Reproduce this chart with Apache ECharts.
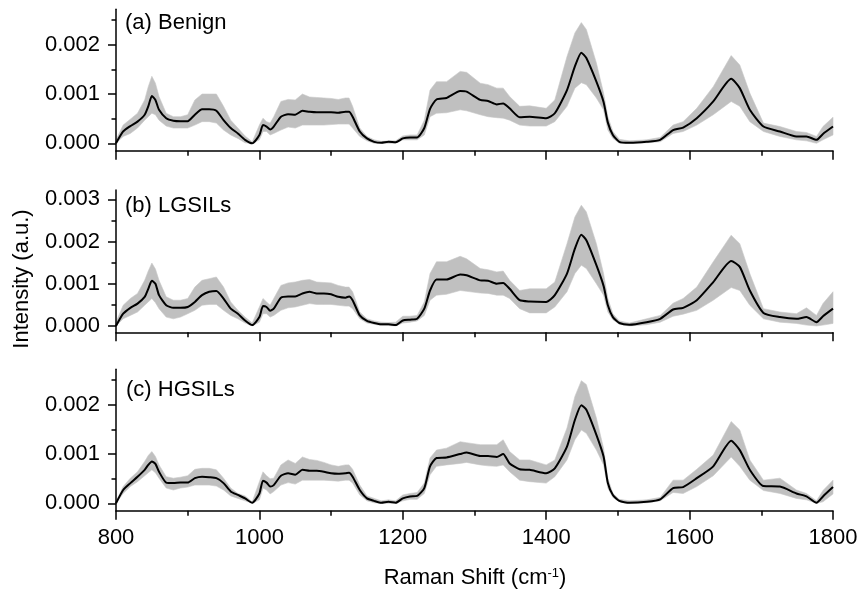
<!DOCTYPE html>
<html><head><meta charset="utf-8">
<script src="https://cdn.jsdelivr.net/npm/echarts@6/dist/echarts.min.js"></script>
<style>html,body{margin:0;padding:0;background:#fff}#c{width:861px;height:593px}</style>
</head><body><div id="c"></div>
<script>
// Raman shift (cm-1)
const ramanShift = [800,810,820,830,840,845,850,855,860,870,880,890,900,910,920,930,940,950,960,970,980,990,1000,1005,1010,1015,1020,1030,1040,1050,1060,1070,1080,1090,1100,1110,1120,1125,1130,1140,1150,1160,1170,1180,1190,1200,1210,1220,1230,1238,1247,1261,1280,1289,1308,1319,1331,1340,1349,1363,1377,1400,1412,1429,1440,1449,1456,1470,1480,1486,1493,1502,1516,1540,1559,1577,1591,1610,1633,1658,1670,1684,1703,1726,1749,1763,1777,1786,1800];

// Intensities in units of 0.001 a.u.
const benignMean = [0.00,0.24,0.35,0.44,0.58,0.75,0.96,0.88,0.68,0.51,0.46,0.45,0.45,0.58,0.69,0.69,0.66,0.47,0.31,0.20,0.07,0.00,0.17,0.37,0.34,0.28,0.34,0.54,0.59,0.58,0.66,0.64,0.63,0.63,0.63,0.62,0.64,0.64,0.54,0.24,0.10,0.03,0.01,0.03,0.02,0.10,0.12,0.12,0.31,0.70,0.89,0.92,1.06,1.05,0.88,0.86,0.79,0.81,0.71,0.53,0.54,0.51,0.61,1.08,1.56,1.84,1.73,1.25,0.84,0.42,0.17,0.03,0.01,0.03,0.07,0.27,0.32,0.51,0.85,1.31,1.12,0.68,0.34,0.24,0.14,0.14,0.07,0.19,0.34];
const benignUpper = [0.07,0.37,0.49,0.61,0.88,1.15,1.36,1.22,0.95,0.61,0.54,0.54,0.58,0.88,1.00,1.00,1.00,0.75,0.47,0.31,0.15,0.03,0.37,0.51,0.44,0.41,0.54,0.85,0.89,0.88,1.00,0.94,0.93,0.92,0.91,0.89,0.92,0.92,0.75,0.31,0.14,0.07,0.04,0.05,0.05,0.15,0.17,0.17,0.47,1.08,1.25,1.25,1.46,1.44,1.22,1.19,1.12,1.12,0.95,0.75,0.76,0.71,0.88,1.76,2.24,2.45,2.31,1.63,1.02,0.54,0.24,0.08,0.05,0.07,0.12,0.37,0.44,0.71,1.15,1.78,1.59,1.02,0.41,0.34,0.24,0.22,0.14,0.34,0.53];
const benignLower = [0.00,0.14,0.20,0.31,0.47,0.54,0.61,0.58,0.47,0.35,0.31,0.31,0.31,0.37,0.44,0.44,0.41,0.27,0.17,0.10,0.01,0.00,0.07,0.24,0.24,0.17,0.20,0.27,0.33,0.31,0.37,0.37,0.37,0.37,0.38,0.39,0.39,0.39,0.31,0.14,0.05,0.00,0.00,0.00,0.00,0.07,0.07,0.07,0.17,0.54,0.61,0.62,0.68,0.66,0.58,0.54,0.52,0.51,0.47,0.37,0.35,0.35,0.44,0.75,1.12,1.23,1.19,0.92,0.68,0.27,0.10,0.00,0.00,0.01,0.03,0.20,0.24,0.37,0.58,0.85,0.75,0.44,0.24,0.14,0.07,0.05,0.00,0.07,0.17];

const lgsilMean = [0.00,0.29,0.43,0.53,0.69,0.88,1.07,1.00,0.73,0.49,0.43,0.43,0.45,0.57,0.73,0.81,0.83,0.65,0.41,0.29,0.13,0.02,0.21,0.47,0.45,0.36,0.41,0.67,0.70,0.70,0.77,0.81,0.77,0.77,0.75,0.69,0.67,0.70,0.61,0.25,0.12,0.07,0.04,0.04,0.02,0.13,0.15,0.17,0.41,0.84,1.10,1.10,1.22,1.20,1.08,1.07,1.00,1.02,0.88,0.61,0.58,0.57,0.73,1.24,1.83,2.16,2.03,1.44,0.95,0.49,0.21,0.07,0.03,0.09,0.17,0.39,0.43,0.61,1.04,1.54,1.40,0.84,0.31,0.21,0.17,0.21,0.09,0.23,0.41];
const lgsilUpper = [0.09,0.49,0.65,0.77,1.08,1.30,1.49,1.35,1.08,0.69,0.61,0.61,0.65,0.92,1.08,1.12,1.16,0.92,0.57,0.37,0.21,0.07,0.45,0.65,0.57,0.49,0.65,0.96,1.02,1.04,1.08,1.10,1.04,1.03,1.02,0.96,0.92,0.92,0.81,0.33,0.17,0.12,0.09,0.08,0.09,0.23,0.23,0.25,0.57,1.24,1.52,1.52,1.65,1.59,1.36,1.33,1.28,1.30,1.08,0.84,0.88,0.88,1.04,1.95,2.58,2.86,2.70,1.95,1.24,0.65,0.29,0.12,0.07,0.17,0.25,0.54,0.65,0.92,1.52,2.15,1.95,1.24,0.41,0.33,0.29,0.43,0.25,0.53,0.81];
const lgsilLower = [0.00,0.17,0.25,0.33,0.49,0.57,0.65,0.55,0.41,0.21,0.17,0.21,0.29,0.37,0.49,0.51,0.51,0.37,0.25,0.17,0.07,0.00,0.09,0.29,0.29,0.21,0.25,0.37,0.43,0.45,0.49,0.53,0.51,0.51,0.51,0.49,0.47,0.47,0.41,0.17,0.07,0.04,0.01,0.01,0.00,0.07,0.09,0.12,0.25,0.61,0.73,0.75,0.84,0.82,0.78,0.77,0.73,0.73,0.65,0.41,0.31,0.31,0.45,0.81,1.24,1.44,1.36,1.00,0.73,0.33,0.15,0.04,0.00,0.03,0.09,0.23,0.28,0.37,0.61,0.91,0.84,0.49,0.17,0.09,0.06,0.02,0.00,0.02,0.06];

const hgsilMean = [0.00,0.27,0.41,0.54,0.68,0.78,0.85,0.80,0.64,0.42,0.41,0.42,0.42,0.51,0.54,0.53,0.51,0.41,0.24,0.17,0.10,0.01,0.20,0.46,0.42,0.34,0.37,0.56,0.61,0.58,0.68,0.66,0.66,0.64,0.61,0.60,0.61,0.62,0.54,0.27,0.10,0.05,0.01,0.03,0.01,0.10,0.14,0.15,0.31,0.75,0.92,0.93,1.00,1.03,0.96,0.96,0.94,1.00,0.81,0.69,0.68,0.61,0.71,1.15,1.69,1.99,1.90,1.39,0.95,0.41,0.17,0.05,0.01,0.03,0.08,0.31,0.33,0.51,0.75,1.27,1.08,0.68,0.35,0.34,0.20,0.14,0.01,0.14,0.33];
const hgsilUpper = [0.03,0.34,0.51,0.64,0.85,0.97,1.05,0.95,0.78,0.54,0.51,0.53,0.56,0.69,0.71,0.71,0.68,0.51,0.31,0.20,0.15,0.03,0.44,0.64,0.56,0.50,0.51,0.78,0.88,0.81,0.94,0.89,0.87,0.83,0.78,0.75,0.78,0.78,0.69,0.37,0.15,0.10,0.05,0.07,0.05,0.17,0.20,0.22,0.41,0.92,1.08,1.12,1.25,1.23,1.19,1.19,1.19,1.29,1.05,0.88,0.88,0.78,0.88,1.53,2.17,2.49,2.41,1.73,1.12,0.51,0.20,0.08,0.05,0.07,0.12,0.47,0.47,0.69,0.98,1.66,1.49,0.88,0.47,0.51,0.27,0.20,0.05,0.26,0.47];
const hgsilLower = [0.00,0.20,0.34,0.44,0.56,0.62,0.68,0.62,0.51,0.31,0.27,0.31,0.33,0.37,0.37,0.37,0.35,0.27,0.15,0.10,0.05,0.00,0.07,0.31,0.27,0.19,0.24,0.37,0.42,0.39,0.47,0.47,0.47,0.47,0.46,0.45,0.47,0.47,0.41,0.17,0.05,0.01,0.00,0.00,0.00,0.05,0.08,0.08,0.20,0.58,0.75,0.78,0.81,0.83,0.78,0.76,0.75,0.78,0.64,0.47,0.44,0.41,0.54,0.88,1.29,1.49,1.42,1.08,0.78,0.31,0.12,0.03,0.00,0.01,0.05,0.22,0.20,0.34,0.56,0.94,0.75,0.47,0.26,0.20,0.10,0.07,0.00,0.03,0.19];

const panelNames = ['(a) Benign', '(b) LGSILs', '(c) HGSILs'];
const xTicks = [800, 1000, 1200, 1400, 1600, 1800];
const yMajorA = [0, 1, 2];
const yMajorB = [0, 1, 2, 3];
const yMajorC = [0, 1, 2];
const yMinorA = [0.5, 1.5, 2.5];
const yMinorB = [0.5, 1.5, 2.5];
const yMinorC = [0.5, 1.5, 2.5];

const FONT = '"Liberation Sans", Arial, sans-serif';
const panels = [
  {mean: benignMean, up: benignUpper, lo: benignLower, major: yMajorA, minor: yMinorA, max: 2.72, grid: {top: 9.3, height: 141.4}, label: {x: 125, y: 23}},
  {mean: lgsilMean, up: lgsilUpper, lo: lgsilLower, major: yMajorB, minor: yMinorB, max: 3.22, grid: {top: 190, height: 142.3}, label: {x: 125, y: 206}},
  {mean: hgsilMean, up: hgsilUpper, lo: hgsilLower, major: yMajorC, minor: yMinorC, max: 2.72, grid: {top: 369.3, height: 141.4}, label: {x: 126, y: 390}}
];

const axisLineStyle = {color: '#000', width: 1.5};
const grid = [], xAxis = [], yAxis = [], series = [], graphic = [];
panels.forEach((p, i) => {
  grid.push({left: 116, right: 28, top: p.grid.top, height: p.grid.height, containLabel: false});
  xAxis.push({
    gridIndex: i, type: 'value', min: xTicks[0], max: xTicks[xTicks.length - 1], interval: 200,
    axisLine: {show: true, onZero: false, lineStyle: axisLineStyle},
    axisTick: {show: true, inside: false, length: 9, lineStyle: axisLineStyle},
    minorTick: {show: true, splitNumber: 2, length: 5, lineStyle: axisLineStyle},
    axisLabel: {show: i === 2, fontSize: 22, color: '#000', fontFamily: FONT, margin: 16, formatter: v => String(v)},
    splitLine: {show: false}, minorSplitLine: {show: false}, z: 5
  });
  yAxis.push({
    gridIndex: i, type: 'value', position: 'left', offset: 0, min: -0.15, max: p.max,
    axisLine: {show: true, onZero: false, lineStyle: axisLineStyle},
    axisTick: {show: true, inside: false, customValues: p.major, length: 8, lineStyle: axisLineStyle},
    axisLabel: {show: true, customValues: p.major, formatter: v => (v / 1000).toFixed(3), fontSize: 22, color: '#000', fontFamily: FONT, margin: 16},
    splitLine: {show: false}, z: 5
  });
  yAxis.push({
    gridIndex: i, type: 'value', position: 'left', offset: 0, min: -0.15, max: p.max,
    axisLine: {show: false, onZero: false},
    axisTick: {show: true, inside: false, customValues: p.minor, length: 4.5, lineStyle: axisLineStyle},
    axisLabel: {show: false},
    splitLine: {show: false}, z: 5
  });
  const up = p.up, lo = p.lo;
  series.push({
    type: 'custom', xAxisIndex: i, yAxisIndex: 2 * i, silent: true, z: 1,
    data: ramanShift.map((x, k) => [x, up[k], lo[k]]),
    encode: {x: 0, y: [1, 2]},
    renderItem: (params, api) => {
      if (params.dataIndex !== 0) return null;
      const pts = [];
      for (let k = 0; k < ramanShift.length; k++) pts.push(api.coord([ramanShift[k], up[k]]));
      for (let k = ramanShift.length - 1; k >= 0; k--) pts.push(api.coord([ramanShift[k], lo[k]]));
      return {type: 'polygon', shape: {points: pts}, style: {fill: '#c0c0c0', stroke: '#c8c8c8', lineWidth: 0.6}};
    }
  });
  series.push({
    type: 'line', xAxisIndex: i, yAxisIndex: 2 * i, z: 3, silent: true,
    data: ramanShift.map((x, k) => [x, p.mean[k]]),
    symbol: 'none', smooth: 0.2, lineStyle: {color: '#000', width: 2}
  });
  graphic.push({
    type: 'text', x: p.label.x, y: p.label.y,
    style: {text: panelNames[i], font: '22px ' + FONT, fill: '#000', textAlign: 'left', textVerticalAlign: 'middle', align: 'left', verticalAlign: 'middle'}
  });
});

graphic.push({
  type: 'text', x: 22, y: 279, rotation: Math.PI / 2,
  style: {text: 'Intensity (a.u.)', font: '22px ' + FONT, fill: '#000', textAlign: 'center', textVerticalAlign: 'middle', align: 'center', verticalAlign: 'middle'}
});
graphic.push({
  type: 'text', x: 475, y: 578,
  style: {
    text: 'Raman Shift (cm{s|-1})', font: '22px ' + FONT, fontSize: 22, fontFamily: FONT, fill: '#000',
    textAlign: 'center', textVerticalAlign: 'middle', align: 'center', verticalAlign: 'middle',
    rich: {s: {fontSize: 13, fontFamily: FONT, fill: '#000', verticalAlign: 'top', lineHeight: 22}}
  }
});

const chart = echarts.init(document.getElementById('c'), null, {renderer: 'canvas'});
chart.setOption({
  animation: false,
  backgroundColor: '#fff',
  textStyle: {fontFamily: FONT},
  grid, xAxis, yAxis, series, graphic
});
</script></body></html>
